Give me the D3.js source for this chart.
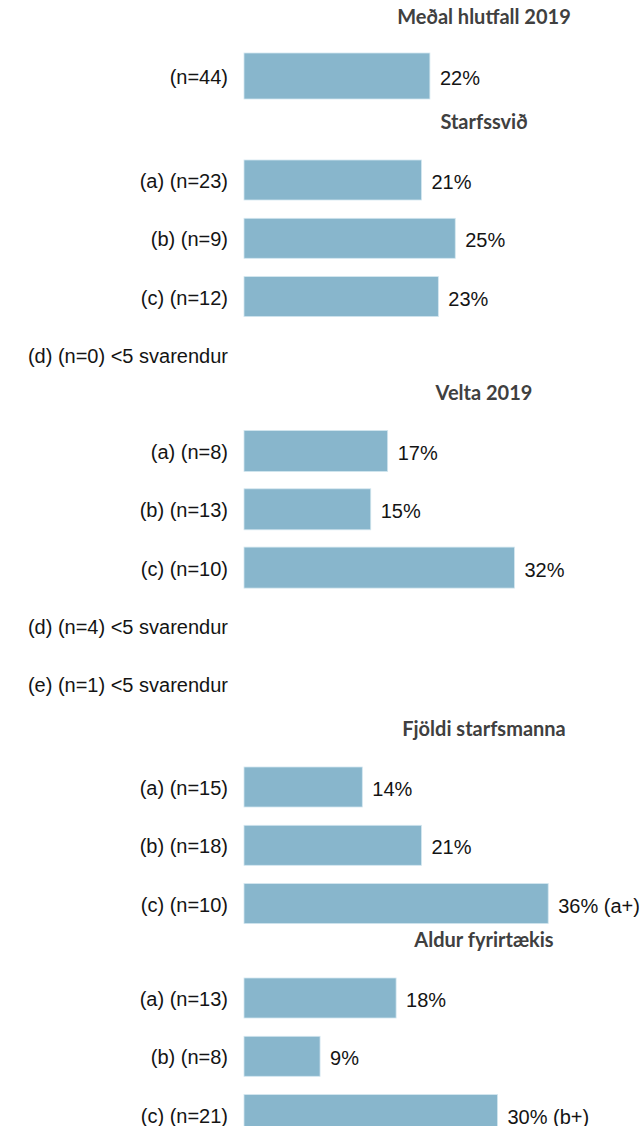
<!DOCTYPE html>
<html>
<head>
<meta charset="utf-8">
<script src="https://cdn.jsdelivr.net/npm/d3@7"></script>
<style>
  html, body { margin: 0; padding: 0; background: #fff; }
</style>
</head>
<body>
<div id="chart"></div>
<script>
const WIDTH = 643;
const HEIGHT = 1126;
const LABEL_RIGHT = 228;
const BAR_LEFT = 244;
const BAR_COLOR = '#88b6cc';

// chart data, one small array per panel
const titles = ['Meðal hlutfall 2019', 'Starfssvið', 'Velta 2019', 'Fjöldi starfsmanna', 'Aldur fyrirtækis'];

const medal_cats = ['(n=44)'];
const medal_vals = [0.22];
const medal_notes = [''];

const starf_cats = ['(a) (n=23)', '(b) (n=9)', '(c) (n=12)', '(d) (n=0) <5 svarendur'];
const starf_vals = [0.21, 0.25, 0.23, null];
const starf_notes = ['', '', '', ''];

const velta_cats = ['(a) (n=8)', '(b) (n=13)', '(c) (n=10)', '(d) (n=4) <5 svarendur', '(e) (n=1) <5 svarendur'];
const velta_vals = [0.17, 0.15, 0.32, null, null];
const velta_notes = ['', '', '', '', ''];

const fjoldi_cats = ['(a) (n=15)', '(b) (n=18)', '(c) (n=10)'];
const fjoldi_vals = [0.14, 0.21, 0.36];
const fjoldi_notes = ['', '', ' (a+)'];

const aldur_cats = ['(a) (n=13)', '(b) (n=8)', '(c) (n=21)'];
const aldur_vals = [0.18, 0.09, 0.30];
const aldur_notes = ['', '', ' (b+)'];

// panel layout: title centre y, first row centre y, bar thickness
const panels = [
  { title: titles[0], cats: medal_cats, vals: medal_vals, notes: medal_notes, ty: 17, top: 76, bh: 46 },
  { title: titles[1], cats: starf_cats, vals: starf_vals, notes: starf_notes, ty: 122, top: 180, bh: 40 },
  { title: titles[2], cats: velta_cats, vals: velta_vals, notes: velta_notes, ty: 393, top: 451, bh: 41 },
  { title: titles[3], cats: fjoldi_cats, vals: fjoldi_vals, notes: fjoldi_notes, ty: 729, top: 787, bh: 40 },
  { title: titles[4], cats: aldur_cats, vals: aldur_vals, notes: aldur_notes, ty: 940, top: 998, bh: 40 }
];

const STEP = 58.3;

const x = d3.scaleLinear()
  .domain([0, 0.4])
  .range([BAR_LEFT, BAR_LEFT + 338]);

const pct = d3.format('.0%');

const svg = d3.select('#chart')
  .append('svg')
    .attr('width', WIDTH)
    .attr('height', HEIGHT);

panels.forEach(p => {
  const g = svg.append('g');

  const y = d3.scalePoint()
    .domain(p.cats)
    .range([p.top, p.top + STEP * (p.cats.length - 1)]);

  g.append('text')
   .attr('x', 484)
   .attr('y', p.ty)
   .attr('dy', '0.35em')
   .attr('text-anchor', 'middle')
   .style('font-family', 'Lato, "Open Sans", sans-serif')
   .style('font-weight', '700')
   .style('font-size', '20px')
   .style('fill', '#404040')
   .text(p.title);

  const rows = p.cats.map((c, i) => ({ cat: c, val: p.vals[i], note: p.notes[i] }));

  g.selectAll('.cat')
    .data(rows)
    .enter()
    .append('text')
      .attr('class', 'cat')
      .attr('x', LABEL_RIGHT)
      .attr('y', d => y(d.cat) + 1)
      .attr('dy', '0.35em')
      .attr('text-anchor', 'end')
      .style('font-family', '"Liberation Sans", Arial, sans-serif')
      .style('font-size', '20px')
      .style('fill', '#141414')
      .text(d => d.cat);

  const bars = rows.filter(d => d.val !== null);

  g.selectAll('rect')
    .data(bars)
    .enter()
    .append('rect')
      .attr('x', x(0))
      .attr('y', d => y(d.cat) - p.bh / 2)
      .attr('width', d => x(d.val) - x(0))
      .attr('height', p.bh)
      .attr('fill', BAR_COLOR)
      .attr('stroke', '#d3e6ef')
      .attr('stroke-width', 0.8);

  g.selectAll('.val')
    .data(bars)
    .enter()
    .append('text')
      .attr('class', 'val')
      .attr('x', d => x(d.val) + 10)
      .attr('y', d => y(d.cat) + 2)
      .attr('dy', '0.35em')
      .style('font-family', '"Liberation Sans", Arial, sans-serif')
      .style('font-size', '20px')
      .style('fill', '#141414')
      .text(d => pct(d.val) + d.note);
});
</script>
</body>
</html>
